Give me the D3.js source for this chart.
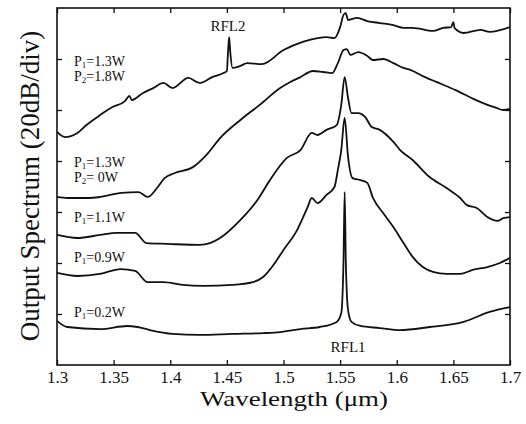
<!DOCTYPE html>
<html>
<head>
<meta charset="utf-8">
<script src="https://cdn.jsdelivr.net/npm/d3@7/dist/d3.min.js"></script>
<style>
  body { margin: 0; background: #fff; }
  svg { display: block; }
  text { font-family: "Liberation Serif", "Times New Roman", serif; fill: #111; }
</style>
</head>
<body>
<div id="chart"></div>
<script>
// wavelength (um) / relative power (dB, 20 dB per division)
var c1Wl = [1.300,1.307,1.318,1.326,1.338,1.349,1.360,1.364,1.366,1.376,1.385,1.394,1.402,1.416,1.426,1.437,1.447,1.450,1.451,1.452,1.453,1.455,1.462,1.468,1.481,1.500,1.517,1.530,1.538,1.545,1.550,1.553,1.555,1.557,1.565,1.574,1.585,1.597,1.606,1.614,1.632,1.641,1.648,1.650,1.651,1.659,1.674,1.682,1.700];
var c1Db = [91.4,89.4,91.0,94.1,98.0,101.2,103.5,105.5,103.9,106.7,108.6,110.6,108.6,112.6,110.6,112.9,114.5,115.3,122.7,128.6,122.7,116.5,117.3,118.4,118.0,123.5,126.7,128.2,128.6,128.2,132.5,137.3,138.0,135.3,136.1,134.9,134.1,133.3,132.2,132.2,131.0,132.2,132.5,134.5,132.2,130.2,131.4,130.6,132.5];

var c2Wl = [1.300,1.309,1.327,1.338,1.357,1.372,1.380,1.389,1.395,1.404,1.420,1.432,1.444,1.462,1.479,1.497,1.506,1.515,1.526,1.535,1.543,1.548,1.553,1.556,1.559,1.566,1.574,1.579,1.588,1.597,1.606,1.612,1.623,1.635,1.652,1.670,1.688,1.694,1.700];
var c2Db = [65.9,65.5,65.5,65.9,67.5,67.8,65.9,69.8,73.3,75.3,77.6,82.4,89.0,96.1,102.0,108.6,111.0,112.9,115.3,114.9,114.5,118.4,123.5,123.9,121.6,122.7,121.2,119.6,120.0,118.4,116.5,115.7,113.3,111.0,107.8,103.9,100.8,100.0,100.4];

var c3Wl = [1.300,1.318,1.338,1.353,1.369,1.379,1.397,1.426,1.435,1.444,1.462,1.477,1.488,1.503,1.515,1.525,1.530,1.538,1.547,1.551,1.554,1.557,1.560,1.566,1.572,1.578,1.585,1.597,1.603,1.614,1.629,1.644,1.656,1.662,1.671,1.680,1.689,1.694,1.700];
var c3Db = [51.0,49.8,51.0,51.8,51.8,47.8,47.5,47.1,47.8,49.8,56.9,64.7,72.5,81.2,84.3,91.0,90.2,92.2,94.1,102.0,112.9,104.7,98.8,98.8,97.3,93.3,92.2,87.5,84.3,80.4,73.7,69.4,65.5,62.7,61.5,58.0,56.5,57.6,58.0];

var c4Wl = [1.300,1.318,1.338,1.356,1.369,1.380,1.394,1.411,1.429,1.455,1.473,1.482,1.493,1.500,1.512,1.521,1.525,1.530,1.538,1.545,1.548,1.551,1.554,1.557,1.561,1.568,1.574,1.579,1.588,1.597,1.606,1.614,1.623,1.632,1.644,1.656,1.667,1.680,1.691,1.700];
var c4Db = [36.1,34.9,35.7,37.6,36.9,32.5,32.5,31.4,31.0,31.4,32.5,34.5,40.4,45.1,52.9,61.6,65.5,63.5,66.7,69.8,76.5,84.3,96.9,81.6,73.3,72.5,71.4,65.5,59.6,54.1,47.8,42.4,38.4,36.5,35.7,35.7,37.3,38.4,40.0,42.0];

var c5Wl = [1.300,1.309,1.338,1.362,1.371,1.382,1.402,1.426,1.455,1.482,1.497,1.515,1.532,1.547,1.551,1.553,1.554,1.555,1.557,1.560,1.568,1.585,1.603,1.629,1.659,1.682,1.700];
var c5Db = [17.3,14.9,14.1,15.3,14.9,13.7,12.2,11.8,12.2,12.5,12.9,14.1,14.9,16.9,20.4,41.2,67.8,41.2,21.6,16.9,15.3,14.5,13.7,14.9,16.9,20.8,22.7];

var xTicks = [1.3,1.35,1.4,1.45,1.5,1.55,1.6,1.65,1.7];
var xTickLabels = ["1.3","1.35","1.4","1.45","1.5","1.55","1.6","1.65","1.7"];
var yTicks = [20,40,60,80,100,120];

// pump-power labels: each line is [main, subscript, rest], anchored at wavelength / dB of first line
var notes = [
  {wl:1.315, db:117.3, lines:[["P","1","=1.3W"], ["P","2","=1.8W"]]},
  {wl:1.315, db:77.6,  lines:[["P","1","=1.3W"], ["P","2","= 0W"]]},
  {wl:1.315, db:56.1,  lines:[["P","1","=1.1W"]]},
  {wl:1.315, db:40.4,  lines:[["P","1","=0.9W"]]},
  {wl:1.315, db:18.8,  lines:[["P","1","=0.2W"]]}
];
var peaks = [
  {wl:1.451, db:131.0, label:"RFL2"},
  {wl:1.557, db:5.0,   label:"RFL1"}
];

var width = 526,
    height = 424,
    margin = {top: 8, right: 16, bottom: 59, left: 57};

var svg = d3.select("#chart").append("svg")
    .attr("width", width)
    .attr("height", height);

var x = d3.scaleLinear().domain([1.3, 1.7]).range([margin.left, width - margin.right]);
var y = d3.scaleLinear().domain([0, 140]).range([height - margin.bottom, margin.top]);

//Axes, ticks all pointing inward
function styleAxis(g) {
    g.select(".domain").remove();
    g.selectAll(".tick line").attr("stroke", "#111").attr("stroke-width", 1.3);
}

svg.append("g")
    .attr("transform", "translate(0," + y(0) + ")")
    .call(d3.axisBottom(x).tickValues(xTicks)
        .tickFormat(function(d, i) { return xTickLabels[i]; })
        .tickSizeInner(-5).tickSizeOuter(0).tickPadding(6))
    .call(styleAxis)
    .selectAll("text").attr("font-size", 17).attr("fill", "#111");

svg.append("g")
    .attr("transform", "translate(0," + y(140) + ")")
    .call(d3.axisTop(x).tickValues(xTicks).tickFormat("").tickSizeInner(-5).tickSizeOuter(0))
    .call(styleAxis);

svg.append("g")
    .attr("transform", "translate(" + x(1.3) + ",0)")
    .call(d3.axisLeft(y).tickValues(yTicks).tickFormat("").tickSizeInner(-5).tickSizeOuter(0))
    .call(styleAxis);

svg.append("g")
    .attr("transform", "translate(" + x(1.7) + ",0)")
    .call(d3.axisRight(y).tickValues(yTicks).tickFormat("").tickSizeInner(-5).tickSizeOuter(0))
    .call(styleAxis);

//Plot frame
svg.append("rect")
    .attr("x", x(1.3))
    .attr("y", y(140))
    .attr("width", x(1.7) - x(1.3))
    .attr("height", y(0) - y(140))
    .attr("fill", "none")
    .attr("stroke", "#111")
    .attr("stroke-width", 1.6);

//Spectra
var line = d3.line()
    .curve(d3.curveMonotoneX)
    .x(function(d) { return x(d[0]); })
    .y(function(d) { return y(d[1]); });

var series = [[c1Wl, c1Db], [c2Wl, c2Db], [c3Wl, c3Db], [c4Wl, c4Db], [c5Wl, c5Db]];
series.forEach(function(s) {
    var pts = d3.zip(s[0], s[1]);
    svg.append("path")
        .datum(pts)
        .attr("d", line)
        .attr("fill", "none")
        .attr("stroke", "#111")
        .attr("stroke-width", 1.8)
        .attr("stroke-linejoin", "round");
});

//Power labels with subscripts, one text element per label block
notes.forEach(function(n) {
    var t = svg.append("text")
        .attr("x", x(n.wl))
        .attr("y", y(n.db))
        .attr("font-size", 14);
    n.lines.forEach(function(parts, i) {
        t.append("tspan").attr("x", x(n.wl)).attr("dy", i === 0 ? 0 : 15).text(parts[0]);
        t.append("tspan").attr("font-size", 9).attr("dy", 2).text(parts[1]);
        t.append("tspan").attr("dy", -2).text(parts[2]);
    });
});

peaks.forEach(function(p) {
    svg.append("text")
        .attr("x", x(p.wl))
        .attr("y", y(p.db))
        .attr("text-anchor", "middle")
        .attr("font-size", 15)
        .text(p.label);
});

//Axis titles
svg.append("text")
    .attr("x", 294)
    .attr("y", 406)
    .attr("text-anchor", "middle")
    .attr("font-size", 22)
    .attr("textLength", 188)
    .attr("lengthAdjust", "spacingAndGlyphs")
    .text("Wavelength (\u03bcm)");

svg.append("text")
    .attr("transform", "translate(39,186) rotate(-90)")
    .attr("text-anchor", "middle")
    .attr("font-size", 27)
    .text("Output Spectrum (20dB/div)");
</script>
</body>
</html>
